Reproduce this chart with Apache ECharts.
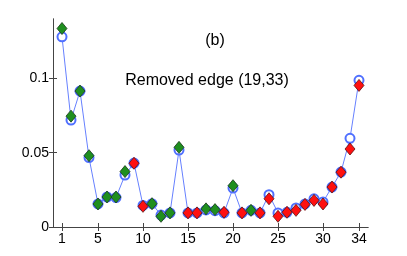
<!DOCTYPE html>
<html>
<head>
<meta charset="utf-8">
<script src="https://cdn.jsdelivr.net/npm/echarts@6/dist/echarts.min.js"></script>
<style>html,body{margin:0;padding:0;background:#fff}#c{width:407px;height:256px}</style>
</head>
<body>
<div id="c"></div>
<script>
const nodes = [1,2,3,4,5,6,7,8,9,10,11,12,13,14,15,16,17,18,19,20,21,22,23,24,25,26,27,28,29,30,31,32,33,34];
const circleValues = [0.128,0.072,0.0915,0.0467,0.0155,0.0202,0.0198,0.035,0.043,0.0145,0.0157,0.008,0.0095,0.0518,0.0095,0.0095,0.0115,0.011,0.0095,0.0262,0.0095,0.0112,0.0095,0.0217,0.0095,0.0099,0.0128,0.0155,0.019,0.0169,0.0269,0.037,0.0597,0.0987];
const diamondValues = [0.1336,0.0746,0.0915,0.048,0.0155,0.0202,0.0202,0.0373,0.0429,0.0139,0.0157,0.0072,0.0095,0.0536,0.0095,0.0095,0.0122,0.0117,0.0099,0.0278,0.0095,0.0112,0.0095,0.019,0.0072,0.0099,0.0112,0.0152,0.0179,0.0155,0.0269,0.0369,0.0525,0.0953];
const greenNodes = [1,2,3,4,5,6,7,8,11,12,13,14,17,18,20,22];
const xTicks = [1,5,10,15,20,25,30,34];
const yTicks = [0,0.05,0.1];
const title1 = '(b)';
const title2 = 'Removed edge (19,33)';

const greenData = [], redData = [];
nodes.forEach((n,i)=>{ (greenNodes.includes(n)?greenData:redData).push([n, diamondValues[i]]); });
const lineData = nodes.map((n,i)=>[n, circleValues[i]]);

const chart = echarts.init(document.getElementById('c'));
const axisLine = {show:true, lineStyle:{color:'#444', width:1}};
const tick = {show:true, inside:true, length:4, lineStyle:{color:'#444'}};
const font = 'Liberation Sans, Arial, sans-serif';
chart.setOption({
  animation:false,
  grid:{left:53, right:39, top:19, bottom:29},
  title:[
    {text:title1, left:215, top:33, padding:0, textAlign:'center', textStyle:{fontFamily:font, fontSize:16, fontWeight:'normal', color:'#000'}},
    {text:title2, left:207, top:73, padding:0, textAlign:'center', textStyle:{fontFamily:font, fontSize:16, fontWeight:'normal', color:'#000'}}
  ],
  xAxis:[
    {type:'value', min:0, max:35, position:'bottom', splitLine:{show:false}, axisLine, 
     axisTick:Object.assign({customValues:xTicks}, tick),
     axisLabel:{customValues:xTicks, fontFamily:font, fontSize:14, color:'#000', margin:5}},
    {type:'value', min:0, max:35, position:'top', splitLine:{show:false}, axisLine,
     axisTick:Object.assign({customValues:xTicks}, tick), axisLabel:{show:false}}
  ],
  yAxis:[
    {type:'value', min:0, max:0.14, position:'left', splitLine:{show:false}, axisLine,
     axisTick:Object.assign({customValues:yTicks}, tick),
     axisLabel:{customValues:yTicks, fontFamily:font, fontSize:14, color:'#000', margin:4, formatter:v=>String(v)}},
    {type:'value', min:0, max:0.14, position:'right', splitLine:{show:false}, axisLine,
     axisTick:Object.assign({customValues:yTicks}, tick), axisLabel:{show:false}}
  ],
  series:[
    {type:'line', data:lineData, symbol:'emptyCircle', symbolSize:9, showAllSymbol:true,
     lineStyle:{color:'#6680ff', width:1}, itemStyle:{color:'#5070ff', borderColor:'#5070ff', borderWidth:0.8}, z:2},
    {type:'scatter', data:greenData, symbol:'diamond', symbolSize:[10,12],
     itemStyle:{color:'#1f8f1f', borderColor:'#1a3a1a', borderWidth:0.8, opacity:1}, z:3},
    {type:'scatter', data:redData, symbol:'diamond', symbolSize:[10,12],
     itemStyle:{color:'#ff1010', borderColor:'#5a1010', borderWidth:0.8, opacity:1}, z:3}
  ]
});
</script>
</body>
</html>
